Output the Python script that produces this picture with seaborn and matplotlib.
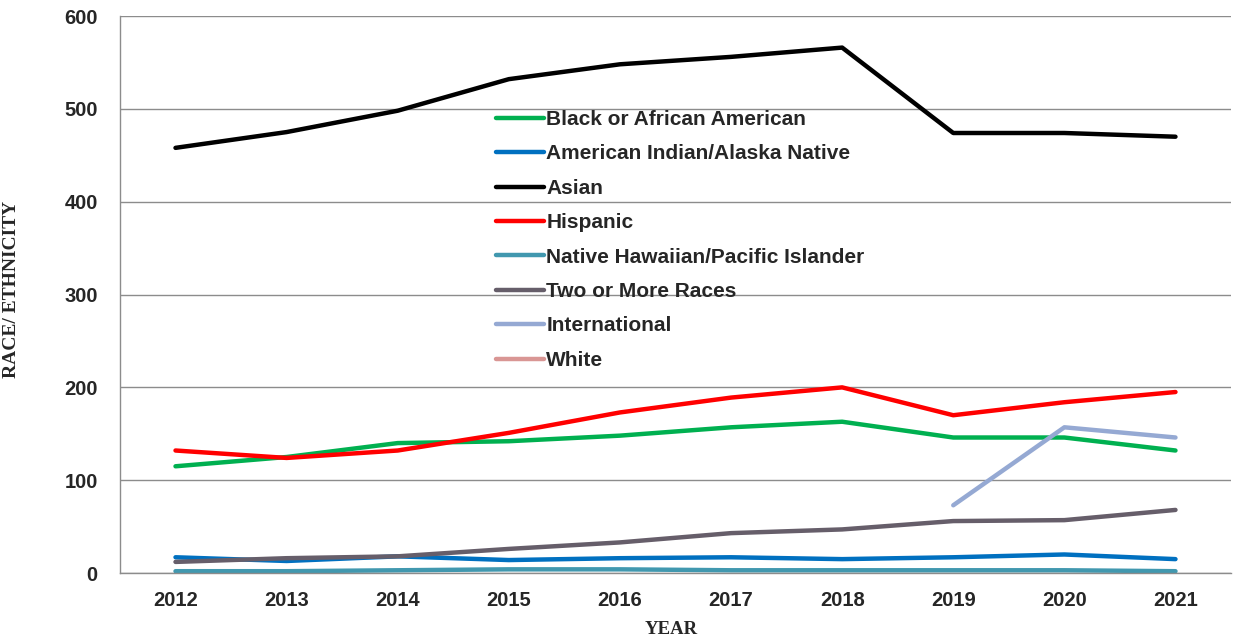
import numpy as np
import pandas as pd
import matplotlib
matplotlib.use("Agg")
import matplotlib.pyplot as plt
from matplotlib.lines import Line2D
import seaborn as sns

years = [2012, 2013, 2014, 2015, 2016, 2017, 2018, 2019, 2020, 2021]

black = [115, 125, 140, 142, 148, 157, 163, 146, 146, 132]
american_indian = [17, 13, 18, 14, 16, 17, 15, 17, 20, 15]
asian = [458, 475, 498, 532, 548, 556, 566, 474, 474, 470]
hispanic = [132, 124, 132, 151, 173, 189, 200, 170, 184, 195]
native_hawaiian = [2, 2, 3, 4, 4, 3, 3, 3, 3, 2]
two_or_more = [12, 16, 18, 26, 33, 43, 47, 56, 57, 68]
international = [np.nan, np.nan, np.nan, np.nan, np.nan, np.nan, np.nan, 73, 157, 146]
white = [np.nan] * 10  # not visible in the chart

series = [
    ("Black or African American", black, "#00B050"),
    ("American Indian/Alaska Native", american_indian, "#0070C0"),
    ("Asian", asian, "#000000"),
    ("Hispanic", hispanic, "#FF0000"),
    ("Native Hawaiian/Pacific Islander", native_hawaiian, "#4198AF"),
    ("Two or More Races", two_or_more, "#665E6A"),
    ("International", international, "#95A9D3"),
    ("White", white, "#D99694"),
]

sns.set_style("white")
plt.rcParams["font.family"] = ["Liberation Sans", "DejaVu Sans"]

fig = plt.figure(figsize=(12.34, 6.41), dpi=100)
ax = fig.add_axes([0.0972, 0.106, 0.9004, 0.869])

pos = np.arange(len(years))
handles = []
for name, vals, col in series:
    df = pd.DataFrame({"x": pos, "y": vals}).dropna()
    if len(df):
        sns.lineplot(data=df, x="x", y="y", color=col, linewidth=3.2, ax=ax,
                     legend=False, solid_capstyle="round")
    handles.append(Line2D([0], [0], color=col, linewidth=3.2, solid_capstyle="round"))

ax.set_xlim(-0.5, len(years) - 0.5)
ax.set_ylim(0, 600)
ax.set_yticks(range(0, 601, 100))
ax.yaxis.grid(True, color="#8c8c8c", linewidth=1)
ax.set_axisbelow(True)

ax.set_xticks(pos)
ax.set_xticklabels([str(y) for y in years], fontsize=14.5, fontweight="bold")
ax.set_xticks(np.arange(-0.5, len(years)), minor=True)
ax.tick_params(axis="x", which="major", length=0, pad=13)
ax.tick_params(axis="x", which="minor", length=6, color="#8c8c8c", width=1)
ax.tick_params(axis="y", length=6, color="#8c8c8c", width=1, pad=10)
for lab in ax.get_yticklabels():
    lab.set_fontsize(14.5)
    lab.set_fontweight("bold")

for s in ["top", "right"]:
    ax.spines[s].set_visible(False)
for s in ["left", "bottom"]:
    ax.spines[s].set_color("#8c8c8c")
    ax.spines[s].set_linewidth(1)

ax.set_xlabel("YEAR", fontsize=13.5, fontweight="bold", family="Liberation Serif")
ax.set_ylabel("RACE/ ETHNICITY", fontsize=14, fontweight="bold", family="Liberation Serif")
ax.xaxis.set_label_coords(0.496, -0.086)
ax.yaxis.set_label_coords(-0.09, 0.51)

leg = ax.legend(handles, [s[0] for s in series], loc="upper left",
                bbox_to_anchor=(0.329, 0.85), frameon=False,
                prop={"weight": "bold", "size": 15}, handlelength=2.3,
                handletextpad=0.12, labelspacing=0.74, borderpad=0)

fig.savefig("out.png", dpi=100)
